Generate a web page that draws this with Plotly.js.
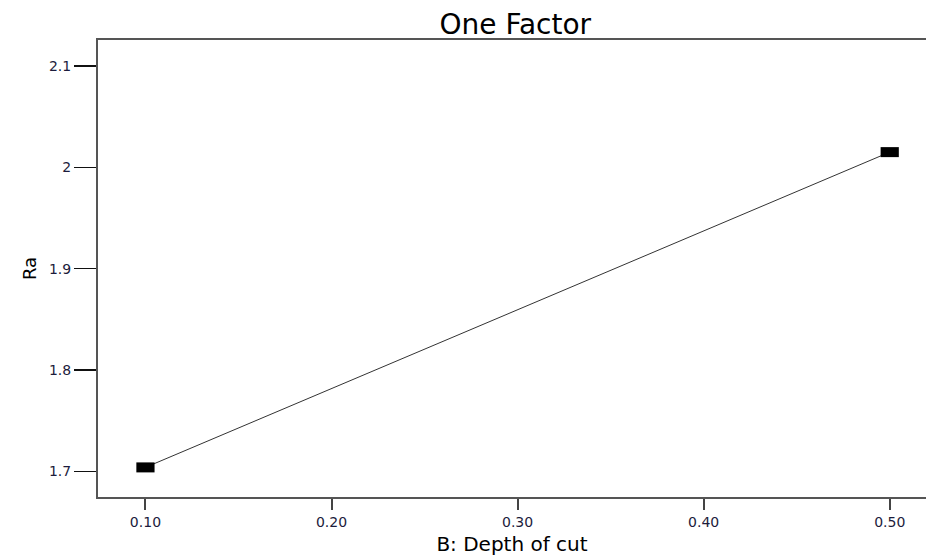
<!DOCTYPE html>
<html>
<head>
<meta charset="utf-8">
<script src="https://cdn.plot.ly/plotly-3.0.1.min.js"></script>
<style>html,body{margin:0;padding:0;background:#fff;}#chart{width:926px;height:557px;}</style>
</head>
<body>
<div id="chart"></div>
<script>
const depthOfCut = [0.10, 0.50];
const raValues = [1.704, 2.015];
const xTickVals = [0.10, 0.20, 0.30, 0.40, 0.50];
const xTickText = ["0.10", "0.20", "0.30", "0.40", "0.50"];
const yTickVals = [1.7, 1.8, 1.9, 2.0, 2.1];
const yTickText = ["1.7", "1.8", "1.9", "2", "2.1"];

const trace = {
  x: depthOfCut,
  y: raValues,
  type: 'scatter',
  mode: 'lines+markers',
  line: {color: '#333333', width: 1},
  marker: {symbol: 'line-ew', size: 13, color: '#000', line: {color: '#000', width: 10}},
  hoverinfo: 'x+y'
};

const layout = {
  width: 926,
  height: 557,
  margin: {l: 98, r: 0, t: 40, b: 60, pad: 0},
  paper_bgcolor: '#fff',
  plot_bgcolor: '#fff',
  showlegend: false,
  font: {family: 'DejaVu Sans, Arial, sans-serif', color: '#000'},
  title: {
    text: 'One Factor',
    font: {family: 'DejaVu Sans, Arial, sans-serif', size: 28, color: '#000'},
    x: 0.504, xref: 'paper', xanchor: 'center',
    y: 1 - 24 / 557, yref: 'container', yanchor: 'middle'
  },
  xaxis: {
    range: [0.0745, 0.5195],
    tickvals: xTickVals,
    ticktext: xTickText,
    ticks: 'outside',
    ticklen: 11,
    tickwidth: 2,
    tickcolor: '#444',
    showline: true,
    linecolor: '#555',
    linewidth: 2,
    mirror: true,
    showgrid: false,
    zeroline: false,
    tickfont: {family: 'DejaVu Sans, Arial, sans-serif', size: 14, color: '#1c1c3c'},
    title: {text: 'B: Depth of cut', font: {family: 'DejaVu Sans, Arial, sans-serif', size: 20, color: '#000'}, standoff: 8}
  },
  yaxis: {
    range: [1.6748, 2.1256],
    tickvals: yTickVals,
    ticktext: yTickText,
    ticks: 'outside',
    ticklen: 22,
    tickwidth: 1.2,
    tickcolor: '#111',
    showline: true,
    linecolor: '#555',
    linewidth: 2,
    mirror: false,
    showgrid: false,
    zeroline: false,
    tickfont: {family: 'DejaVu Sans, Arial, sans-serif', size: 14, color: '#1c1c3c'},
    title: {text: 'Ra', font: {family: 'DejaVu Sans, Arial, sans-serif', size: 18, color: '#000'}, standoff: 8}
  }
};

Plotly.newPlot('chart', [trace], layout, {displayModeBar: false, staticPlot: true});
</script>
</body>
</html>
